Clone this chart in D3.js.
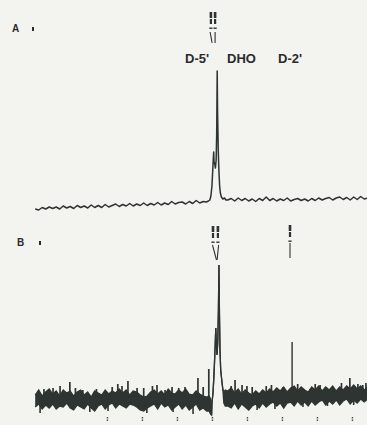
<!DOCTYPE html>
<html><head><meta charset="utf-8">
<script src="https://cdn.jsdelivr.net/npm/d3@7"></script>
<style>html,body{margin:0;padding:0;background:#f3f3f0;} svg{display:block;}</style>
</head><body><svg id="c" width="367" height="425"></svg>
<script>
// ---------- data (chemical shift in ppm, intensity in arbitrary units) ----------
const panelLabels = ["A", "B"];
const peakLabels = ["D-5'", "DHO", "D-2'"];
const tickPpm = [7, 6, 5, 4, 3, 2, 1, 0];

// Spectrum A (single trace)
const specA_ppm = [9.05, 8.95, 8.85, 8.75, 8.65, 8.55, 8.45, 8.35, 8.25, 8.15, 8.05, 7.95, 7.85, 7.75, 7.65, 7.55, 7.45, 7.35, 7.25, 7.15, 7.05, 6.95, 6.85, 6.75, 6.65, 6.55, 6.45, 6.35, 6.25, 6.15, 6.05, 5.95, 5.85, 5.75, 5.65, 5.55, 5.45, 5.35, 5.25, 5.15, 5.05, 4.95, 4.85, 4.75, 4.65, 4.55, 4.45, 4.35, 4.25,
  4.16, 4.10, 4.06, 4.03, 4.00, 3.98, 3.96, 3.95, 3.94, 3.92, 3.90, 3.88, 3.865, 3.85, 3.84, 3.82, 3.80, 3.78, 3.76, 3.73, 3.69, 3.64, 3.60,
  3.55, 3.45, 3.35, 3.25, 3.15, 3.05, 2.95, 2.85, 2.75, 2.65, 2.55, 2.45, 2.35, 2.25, 2.15, 2.05, 1.95, 1.85, 1.75, 1.65, 1.55, 1.45, 1.35, 1.25, 1.15, 1.05, 0.95, 0.85, 0.75, 0.65, 0.55, 0.45, 0.35, 0.25, 0.15, 0.05, -0.05, -0.15, -0.25, -0.35, -0.45];
const specA_int = [1, 0, 2.5, 1, 3, 1.5, 3, 1, 4, 2, 3.5, 1.5, 4.5, 2.5, 4, 2, 5, 2.5, 4.5, 2.5, 5.5, 3, 4.5, 6, 3.5, 5.5, 4, 6.5, 4, 6, 4.5, 7, 4.5, 6.5, 5, 7.5, 5, 7, 5.5, 8.5, 6, 7.5, 8, 6, 8.5, 6.5, 9.5, 7, 8.5,
  8, 9, 10, 14, 24, 38, 52, 58, 48, 46, 42, 50, 75, 139, 100, 60, 38, 24, 17, 13, 11, 12, 10,
  10, 11.5, 9, 12, 9.5, 11.5, 9, 11, 8.5, 11.5, 9.5, 13, 9.5, 11.5, 9, 11, 9.5, 12, 9, 10.5, 11.5, 9.5, 11, 9, 11.5, 9.5, 12, 10, 11.5, 12.5, 10, 12, 13, 10.5, 12.5, 10, 13, 10.5, 13.5, 11, 12];

// Spectrum B (noisy trace: envelope of the noise band, plus spikes)
const specB_ppm = [9.05, 8.95, 8.85, 8.75, 8.65, 8.55, 8.45, 8.35, 8.25, 8.15, 8.05, 7.95, 7.85, 7.75, 7.65, 7.55, 7.45, 7.35, 7.25, 7.15, 7.05, 6.95, 6.85, 6.75, 6.65, 6.55, 6.45, 6.35, 6.25, 6.15, 6.05, 5.95, 5.85, 5.75, 5.65, 5.55, 5.45, 5.35, 5.25, 5.15, 5.05, 4.95, 4.85, 4.75, 4.65, 4.55, 4.45, 4.35, 4.25, 4.15,
  4.08, 4.04, 4.01, 4.00, 3.97, 3.95, 3.93, 3.91, 3.89, 3.875, 3.855, 3.835, 3.815, 3.80, 3.785, 3.77, 3.75, 3.72, 3.69, 3.66, 3.62,
  3.55, 3.45, 3.35, 3.25, 3.15, 3.05, 2.95, 2.85, 2.75, 2.65, 2.55, 2.45, 2.35, 2.25, 2.15, 2.05, 1.95, 1.85, 1.75, 1.65, 1.55, 1.45, 1.35, 1.25, 1.15, 1.05, 0.95, 0.85, 0.75, 0.65, 0.55, 0.45, 0.35, 0.25, 0.15, 0.05, -0.05, -0.15, -0.25, -0.35, -0.45];
const specB_upper = [10, 15, 9, 13, 16, 11, 14, 9, 15, 12, 14, 9, 13, 15, 10, 13, 8, 14, 12, 10, 15, 11, 14, 12, 16, 12, 15, 10, 14, 13, 10, 8, 9, 13, 15, 11, 14, 10, 16, 12, 11, 15, 12, 16, 11, 10, 14, 11, 9, 8,
  9, 6, -10, 2, 12, 25, 40, 58, 77, 62, 50, 62, 95, 140, 90, 55, 35, 25, 16, 13, 15,
  14, 17, 12, 16, 11, 15, 12, 10, 14, 11, 15, 12, 16, 13, 17, 14, 18, 13, 17, 19, 14, 18, 15, 13, 18, 15, 19, 14, 18, 15, 19, 14, 18, 15, 19, 16, 20, 16, 19, 15, 18];
const specB_lower = [-2, 1, -4, 0, -3, 1, -4, -1, -2, 2, -3, -5, 0, -2, -4, 1, -3, -6, -1, 1, -4, 0, 2, -3, 1, -1, -3, 1, 0, -2, -5, -6, -3, -1, 1, -4, 2, -2, 0, -5, -2, 1, -4, 0, -5, -2, 1, -5, -3, -6,
  -6, -9, -10, 2, 12, 25, 40, 58, 77, 62, 50, 62, 95, 140, 90, 55, 35, 25, 16, 2, -1,
  -1, -3, 2, -4, 1, -2, -5, -1, 1, -3, 2, -2, 1, 3, -1, 2, -3, 2, 3, -1, 4, 0, 3, -1, 4, 0, 3, 5, 0, 4, 1, 5, 0, 4, 6, 1, 5, 2, 6, 3, 6];
const spikeB_ppm = [8.80, 8.54, 8.34, 8.06, 7.90, 7.69, 7.30, 6.85, 6.69, 6.57, 6.40, 6.14, 5.95, 5.70, 5.57, 5.34, 5.14, 4.95, 4.77, 4.40, 4.25, 4.09, 3.45, 3.34, 3.14, 3.00, 2.85, 2.45, 2.30, 1.97, 1.71, 1.55, 1.20, 1.05, 0.91, 0.54, 0.30, 0.06, -0.17, -0.31, -0.40];
const spikeB_top = [16, 17, 19, 23, 17, 15, 16, 18, 21, 19, 24, 17, 17, 19, 20, 15, 18, 17, 18, 27, 18, 36, 19, 25, 20, 19, 18, 19, 20, 18, 63, 21, 16, 21, 20, 16, 22, 27, 21, 20, 22];
const dipB_ppm = [8.91, 7.49, 6.97, 5.86, 5.11, 4.54, 2.71, 2.20, 1.40, 0.70, -0.05];
const dipB_bottom = [-8, -7, -6, -8, -7, -9, -5, -4, -2, -1, 0];

// assignment markers above the peaks
const markerA_ppm = [4.03, 3.91];
const markerB_ppm = [3.97, 3.83];
const markerB2_ppm = [1.77];

// ---------- drawing ----------
const ink = "#2e3431";
const svg = d3.select("#c");
svg.append("rect").attr("width", 367).attr("height", 425).attr("fill", "#f3f3f0");

const x = d3.scaleLinear().domain([9.05, -0.45]).range([35.2, 367.7]);
const yA = d3.scaleLinear().domain([0, 140]).range([210, 70]);
const yB = d3.scaleLinear().domain([0, 140]).range([405, 265]);

// Spectrum A
const dataA = specA_ppm.map((p, i) => ({p, v: specA_int[i]}));
svg.append("path").datum(dataA)
  .attr("d", d3.line().x(d => x(d.p)).y(d => yA(d.v)))
  .attr("fill", "none").attr("stroke", ink).attr("stroke-width", 1.5).attr("stroke-linejoin", "round");

// Spectrum B
const dataB = specB_ppm.map((p, i) => ({p, u: specB_upper[i], l: specB_lower[i]}));
svg.append("path").datum(dataB)
  .attr("d", d3.area().x(d => x(d.p)).y0(d => yB(d.l)).y1(d => yB(d.u)))
  .attr("fill", ink).attr("stroke", "none");
svg.append("path").datum(dataB)
  .attr("d", d3.line().x(d => x(d.p)).y(d => yB(d.u)))
  .attr("fill", "none").attr("stroke", ink).attr("stroke-width", 1.3);
svg.append("path").datum(dataB)
  .attr("d", d3.line().x(d => x(d.p)).y(d => yB(d.l)))
  .attr("fill", "none").attr("stroke", ink).attr("stroke-width", 1.3);

function midB(p) {
  for (let i = 0; i < dataB.length - 1; i++) {
    const a = dataB[i], b = dataB[i + 1];
    if (p <= a.p && p >= b.p) {
      const t = (a.p - p) / (a.p - b.p);
      return ((a.u + a.l) / 2) * (1 - t) + ((b.u + b.l) / 2) * t;
    }
  }
  return 5;
}
svg.append("g").selectAll("line").data(spikeB_ppm.map((p, i) => ({p, v: spikeB_top[i]})))
  .join("line")
  .attr("x1", d => x(d.p)).attr("x2", d => x(d.p))
  .attr("y1", d => yB(midB(d.p))).attr("y2", d => yB(d.v))
  .attr("stroke", ink).attr("stroke-width", d => d.v > 50 ? 1.4 : 1.7);
svg.append("g").selectAll("line").data(dipB_ppm.map((p, i) => ({p, v: dipB_bottom[i]})))
  .join("line")
  .attr("x1", d => x(d.p)).attr("x2", d => x(d.p))
  .attr("y1", d => yB(midB(d.p))).attr("y2", d => yB(d.v))
  .attr("stroke", ink).attr("stroke-width", 1.6);

// bottom ppm ticks (unlabelled dots in the original)
const axis = d3.axisBottom(x).tickValues(tickPpm).tickSize(4).tickFormat("");
const gAx = svg.append("g").attr("transform", "translate(0,417)").call(axis);
gAx.select(".domain").remove();
gAx.selectAll(".tick line").attr("stroke", "#4a4a4a").attr("stroke-width", 1.4).attr("stroke-dasharray", "1.5,1");

// markers
function marker(px, yTop, style) {
  const g = svg.append("g").attr("fill", ink).attr("stroke", ink);
  g.append("rect").attr("x", px - 1.3).attr("y", yTop).attr("width", 2.6).attr("height", 6).attr("stroke", "none");
  g.append("rect").attr("x", px - 1.1).attr("y", yTop + 7).attr("width", 2.2).attr("height", 5).attr("stroke", "none");
  g.append("rect").attr("x", px - 1.6).attr("y", yTop + 15.5).attr("width", 3.2).attr("height", 1.4).attr("stroke", "none");
  g.append("line").attr("x1", px + style.dx1).attr("y1", yTop + style.y1)
    .attr("x2", px + style.dx2).attr("y2", yTop + style.y2).attr("stroke-width", 1.1);
}
marker(x(markerA_ppm[0]), 12, {dx1: -0.8, dx2: 1.2, y1: 20, y2: 31});
marker(x(markerA_ppm[1]), 12, {dx1: 0, dx2: 0, y1: 20, y2: 31});
marker(x(markerB_ppm[0]), 226, {dx1: -0.5, dx2: 3.5, y1: 19, y2: 34});
marker(x(markerB_ppm[1]), 226, {dx1: 0.7, dx2: -0.8, y1: 19, y2: 34});
marker(x(markerB2_ppm[0]), 225, {dx1: 0, dx2: 0, y1: 18, y2: 33});

// peak labels
const labelX = [185, 227, 278];
svg.append("g").selectAll("text").data(peakLabels).join("text")
  .attr("x", (d, i) => labelX[i]).attr("y", 63)
  .attr("font-family", "'Liberation Sans', Arial, sans-serif").attr("font-weight", "bold")
  .attr("font-size", 13).attr("fill", "#2b2b2b").text(d => d);

// panel labels
const panelY = [32, 246];
const panelX = [12, 17];
svg.append("g").selectAll("text").data(panelLabels).join("text")
  .attr("x", (d, i) => panelX[i]).attr("y", (d, i) => panelY[i])
  .attr("font-family", "'Liberation Sans', Arial, sans-serif").attr("font-weight", "bold")
  .attr("font-size", 10).attr("fill", "#2b2b2b").text(d => d);
svg.append("g").selectAll("rect").data(panelLabels).join("rect")
  .attr("x", (d, i) => panelX[i] + 20 - i * 2 + (i ? 4 : 0)).attr("y", (d, i) => panelY[i] - 5)
  .attr("width", 2).attr("height", 4).attr("fill", "#2b2b2b");
</script></body></html>
